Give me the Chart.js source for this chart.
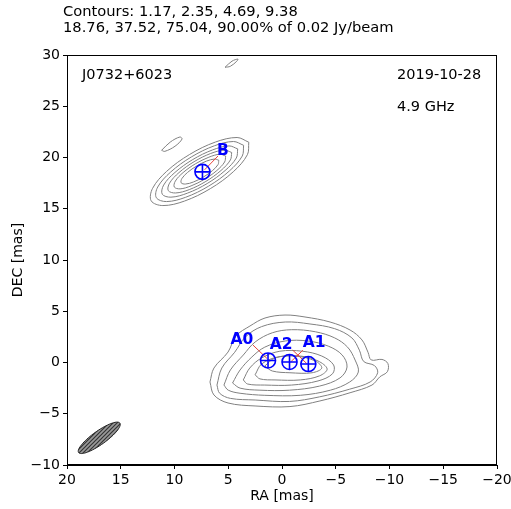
<!DOCTYPE html>
<html>
<head>
<meta charset="utf-8">
<script src="https://cdn.jsdelivr.net/npm/chart.js@4.4.0/dist/chart.umd.min.js"></script>
<style>
  body { margin: 0; background: #fff; }
  #wrap { width: 511px; height: 509px; }
</style>
</head>
<body>
<div id="wrap"><canvas id="chart" width="511" height="509"></canvas></div>
<script>
// contour levels (% of peak)
const contourLevels = ['1.17', '2.35', '4.69', '9.38', '18.76', '37.52', '75.04', '90.00'];
const peakFlux = '0.02';

// tick values
const raTicks = [20, 15, 10, 5, 0, -5, -10, -15, -20];
const decTicks = [-10, -5, 0, 5, 10, 15, 20, 25, 30];

// core region (A) contours, [RA, DEC] in mas
const contourA1 = [[6.7,-1.9],[6.33,-0.54],[5.02,1.02],[4.28,2.59],[2.98,3.56],[1.58,4.34],[-0.28,4.63],[-2.14,4.44],[-4.47,3.95],[-6.33,3.17],[-7.44,2.2],[-8.0,1.0],[-8.3,0.25],[-9.3,0.3],[-9.85,-0.1],[-9.8,-0.9],[-9.1,-1.4],[-8.37,-2.2],[-6.33,-2.95],[-3.53,-3.75],[-0.74,-4.3],[2.51,-4.24],[5.02,-3.95],[6.33,-3.17],[6.7,-1.9]];
const contourA2 = [[6.05,-2.2],[5.6,-0.54],[4.4,1.0],[3.4,2.5],[1.9,3.5],[-0.3,3.95],[-2.6,3.76],[-4.9,3.3],[-6.5,2.4],[-7.2,1.2],[-7.6,0.1],[-8.6,-0.3],[-8.9,-1.0],[-8.2,-1.9],[-6.3,-2.6],[-3.5,-3.35],[-0.7,-3.8],[2.5,-3.66],[4.8,-3.5],[5.8,-3.0],[6.05,-2.2]];
const contourA3 = [[5.4,-2.2],[4.8,-0.73],[3.6,0.73],[2.5,2.0],[0.9,2.9],[-0.9,3.2],[-3.1,3.0],[-4.9,2.4],[-6.1,1.5],[-6.8,0.24],[-7.1,-0.93],[-6.3,-1.9],[-4.5,-2.7],[-1.7,-3.2],[1.6,-3.2],[3.9,-3.0],[5.0,-2.7],[5.4,-2.2]];
const contourA4 = [[4.6,-2.0],[3.9,-0.73],[2.8,0.54],[1.6,1.5],[-0.3,2.1],[-2.4,2.1],[-4.3,1.6],[-5.6,0.73],[-6.05,-0.44],[-5.4,-1.5],[-3.5,-2.3],[-0.7,-2.7],[2.05,-2.7],[3.9,-2.5],[4.6,-2.0]];
const contourA5 = [[3.6,-1.7],[3.0,-0.54],[1.9,0.44],[0.2,1.1],[-1.9,1.1],[-3.7,0.63],[-4.8,-0.24],[-4.7,-1.1],[-3.35,-1.8],[-0.9,-2.2],[1.6,-2.2],[3.2,-2.1],[3.6,-1.7]];
const contourA6 = [[2.5,-1.2],[1.9,-0.15],[0.4,0.54],[-1.7,0.63],[-3.35,0.15],[-4.2,-0.63],[-3.5,-1.3],[-1.7,-1.7],[0.65,-1.7],[2.05,-1.6],[2.5,-1.2]];
const contourA7 = [[1.6,-0.34],[0.65,0.44],[-1.2,0.63],[-3.1,0.15],[-3.7,-0.54],[-2.8,-1.0],[-0.74,-1.0],[0.9,-0.83],[1.6,-0.34]];

// jet region (B) contours
const contourB1 = [[3.09,21.49],[3.22,20.27],[4.53,18.61],[6.67,16.96],[9.07,15.75],[11.08,15.31],[12.17,15.77],[12.04,16.99],[10.73,18.65],[8.59,20.3],[6.19,21.51],[4.18,21.95],[3.09,21.49]];
const contourB2 = [[3.57,21.19],[3.7,20.14],[4.9,18.68],[6.82,17.21],[8.96,16.12],[10.74,15.7],[11.69,16.07],[11.56,17.12],[10.36,18.58],[8.44,20.05],[6.3,21.14],[4.52,21.56],[3.57,21.19]];
const contourB3 = [[4.12,20.84],[4.25,19.95],[5.3,18.72],[6.96,17.46],[8.8,16.52],[10.33,16.13],[11.14,16.42],[11.01,17.31],[9.96,18.54],[8.3,19.8],[6.46,20.74],[4.93,21.13],[4.12,20.84]];
const contourB4 = [[4.68,20.49],[4.8,19.76],[5.68,18.73],[7.08,17.67],[8.62,16.87],[9.9,16.54],[10.58,16.77],[10.46,17.5],[9.58,18.53],[8.18,19.59],[6.64,20.39],[5.36,20.72],[4.68,20.49]];
const contourB5 = [[5.24,20.14],[5.34,19.56],[6.06,18.73],[7.2,17.88],[8.46,17.23],[9.48,16.94],[10.02,17.12],[9.92,17.7],[9.2,18.53],[8.06,19.38],[6.8,20.03],[5.78,20.32],[5.24,20.14]];
const contourB6 = [[5.88,19.73],[5.95,19.31],[6.48,18.71],[7.32,18.09],[8.24,17.61],[8.99,17.41],[9.38,17.53],[9.31,17.95],[8.78,18.55],[7.94,19.17],[7.02,19.65],[6.27,19.85],[5.88,19.73]];
const islandB = [[11.2,20.7],[10.4,21.5],[9.5,22.0],[9.3,21.8],[9.95,21.1],[10.9,20.6],[11.2,20.7]];
const islandTop = [[5.3,28.8],[4.65,29.4],[4.1,29.6],[4.2,29.4],[4.8,28.9],[5.3,28.8]];

// model components
const compNames = ['A0', 'A2', 'A1', 'B'];
const compRA = [1.3, -0.7, -2.45, 7.4];
const compDEC = [0.2, 0.05, -0.15, 18.6];
const labelRA = [3.72, 0.09, -2.98, 5.49];
const labelDEC = [2.2, 1.7, 1.9, 20.6];

// leader lines from labels to components
const leaderLines = [
  [[2.7, 1.7], [1.4, 0.4]],
  [[-1.95, 1.2], [-0.85, 0.1]],
  [[-1.0, 1.2], [-2.3, -0.1]],
  [[5.95, 20.15], [7.2, 18.8]]
];

// restoring beam
const beamRA = 17.0;
const beamDEC = -7.35;
const beamMajor = 4.8;
const beamMinor = 1.3;
const beamPA = -53;

const contours = [contourA1, contourA2, contourA3, contourA4, contourA5, contourA6, contourA7,
  contourB1, contourB2, contourB3, contourB4, contourB5, contourB6, islandB, islandTop];

const toXY = pts => pts.map(p => ({ x: p[0], y: p[1] }));
const fmt = v => v < 0 ? '\u2212' + Math.abs(v) : String(v);
const FONT = 'DejaVu Sans';

const datasets = [];
contours.forEach(c => {
  datasets.push({
    data: toXY(c),
    showLine: true,
    borderColor: '#808080',
    borderWidth: 1,
    pointRadius: 0,
    tension: 0.35,
    order: 3
  });
});
leaderLines.forEach(l => {
  datasets.push({
    data: toXY(l),
    showLine: true,
    borderColor: '#e8453c',
    borderWidth: 1,
    pointRadius: 0,
    order: 2
  });
});
const compPts = compRA.map((x, i) => ({ x: x, y: compDEC[i] }));
datasets.push({
  data: compPts,
  pointStyle: 'circle',
  pointRadius: 7.5,
  pointBorderColor: '#0000ff',
  pointBackgroundColor: 'rgba(0,0,0,0)',
  pointBorderWidth: 1.6,
  order: 1
});
datasets.push({
  data: compPts,
  pointStyle: 'cross',
  pointRadius: 7.5,
  pointBorderColor: '#0000ff',
  pointBorderWidth: 1.6,
  order: 0
});

// hatch pattern for beam
function hatchPattern() {
  const c = document.createElement('canvas');
  c.width = 4; c.height = 4;
  const g = c.getContext('2d');
  g.fillStyle = '#9a9a9a';
  g.fillRect(0, 0, 4, 4);
  g.strokeStyle = '#333';
  g.lineWidth = 1.2;
  g.beginPath();
  g.moveTo(0, 4); g.lineTo(4, 0);
  g.moveTo(-1, 1); g.lineTo(1, -1);
  g.moveTo(3, 5); g.lineTo(5, 3);
  g.stroke();
  return g.createPattern(c, 'repeat');
}

const decorPlugin = {
  id: 'decor',
  afterDatasetsDraw(chart) {
    const ctx = chart.ctx;
    const xs = chart.scales.x, ys = chart.scales.y;
    const a = chart.chartArea;

    // beam ellipse
    const pa = beamPA * Math.PI / 180;
    ctx.save();
    ctx.beginPath();
    for (let k = 0; k <= 72; k++) {
      const t = k / 72 * 2 * Math.PI;
      const u = beamMajor / 2 * Math.cos(t), v = beamMinor / 2 * Math.sin(t);
      const ra = beamRA + u * Math.sin(pa) + v * Math.cos(pa);
      const de = beamDEC + u * Math.cos(pa) - v * Math.sin(pa);
      const px = xs.getPixelForValue(ra), py = ys.getPixelForValue(de);
      if (k === 0) ctx.moveTo(px, py); else ctx.lineTo(px, py);
    }
    ctx.closePath();
    ctx.fillStyle = hatchPattern();
    ctx.fill();
    ctx.strokeStyle = '#222';
    ctx.lineWidth = 1;
    ctx.stroke();

    // component labels
    ctx.fillStyle = '#0000ff';
    ctx.font = 'bold 15.5px "' + FONT + '"';
    ctx.textAlign = 'center';
    ctx.textBaseline = 'middle';
    compNames.forEach((n, i) => {
      ctx.fillText(n, xs.getPixelForValue(labelRA[i]), ys.getPixelForValue(labelDEC[i]));
    });

    // frame
    ctx.strokeStyle = '#000';
    ctx.lineWidth = 1;
    ctx.strokeRect(a.left + 0.5, a.top + 0.5, a.right - a.left - 1, a.bottom - a.top - 1);

    // corner annotations
    ctx.fillStyle = '#000';
    ctx.font = '14.5px "' + FONT + '"';
    ctx.textAlign = 'left';
    ctx.fillText('J0732+6023', a.left + 15, a.top + 20);
    ctx.fillText('2019-10-28', a.right - 100, a.top + 20);
    ctx.fillText('4.9 GHz', a.right - 100, a.top + 52);

    // header
    ctx.font = '14.7px "' + FONT + '"';
    ctx.fillText('Contours: ' + contourLevels.slice(0, 4).join(', '), a.left - 4, 12);
    ctx.fillText(contourLevels.slice(4).join(', ') + '% of ' + peakFlux + ' Jy/beam', a.left - 4, 28);
    ctx.restore();
  }
};

new Chart(document.getElementById('chart'), {
  type: 'scatter',
  data: { datasets: datasets },
  options: {
    responsive: false,
    animation: false,
    events: [],
    layout: { padding: { left: 0, right: 14, top: 55, bottom: 0 } },
    plugins: { legend: { display: false }, tooltip: { enabled: false } },
    scales: {
      x: {
        type: 'linear',
        min: -20, max: 20,
        reverse: true,
        afterBuildTicks: s => { s.ticks = raTicks.map(v => ({ value: v })); },
        afterFit: s => { s.height = 44; s.paddingLeft = 0; s.paddingRight = 0; },
        grid: { drawOnChartArea: false, drawTicks: true, tickLength: 4, color: '#000' },
        border: { display: true, color: '#000' },
        ticks: { color: '#000', padding: 3, maxRotation: 0, autoSkip: false,
          font: { family: FONT, size: 14 }, callback: v => fmt(v) },
        title: { display: true, text: 'RA [mas]', color: '#000',
          font: { family: FONT, size: 14 }, padding: { top: 0, bottom: 4 } }
      },
      y: {
        type: 'linear',
        min: -10, max: 30,
        afterBuildTicks: s => { s.ticks = decTicks.map(v => ({ value: v })); },
        afterFit: s => { s.width = 67; s.paddingTop = 0; s.paddingBottom = 0; },
        grid: { drawOnChartArea: false, drawTicks: true, tickLength: 4, color: '#000' },
        border: { display: true, color: '#000' },
        ticks: { color: '#000', padding: 3, autoSkip: false,
          font: { family: FONT, size: 14 }, callback: v => fmt(v) },
        title: { display: true, text: 'DEC [mas]', color: '#000',
          font: { family: FONT, size: 14 }, padding: { top: 10, bottom: 0 } }
      }
    }
  },
  plugins: [decorPlugin]
});
</script>
</body>
</html>
